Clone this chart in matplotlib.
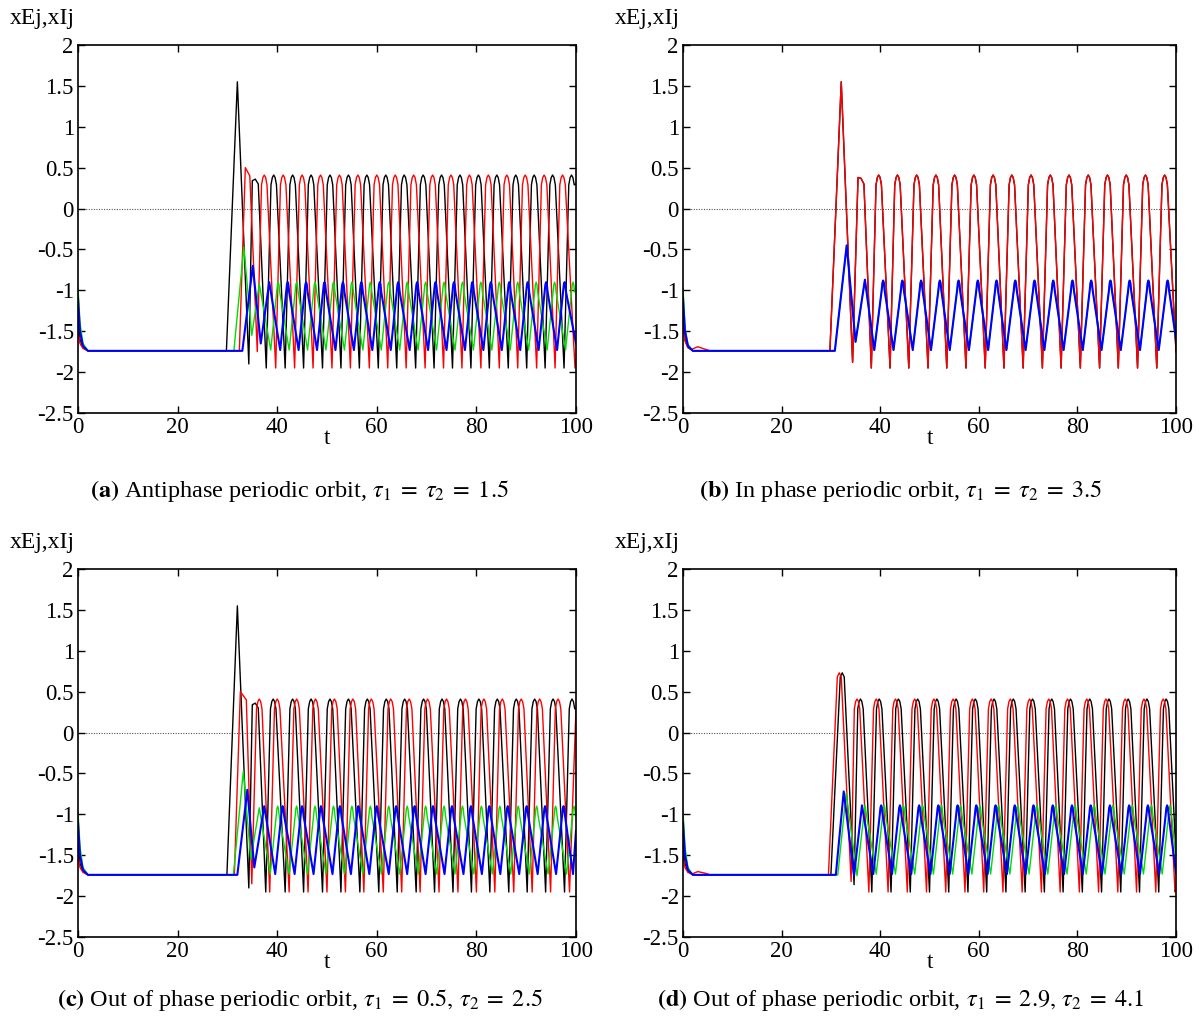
import numpy as np
import matplotlib.pyplot as plt

plt.rcParams['font.family'] = ['Liberation Serif', 'DejaVu Serif']
plt.rcParams['mathtext.fontset'] = 'stix'
plt.rcParams['axes.unicode_minus'] = False

# levels of the settled oscillation
exc_peak = 0.41
exc_trough = -1.95
inh_peak = -0.90
inh_trough = -1.73
# width (in t) of the rounded top of each pulse
exc_top_w = 1.1
inh_top_w = 0.6

# ---- (a) tau1 = tau2 = 1.5 ----
a_black_lead_t = [0, 0.4, 1.0, 2.0, 29.8, 32.0, 34.3, 35.0, 35.6, 36.2]
a_black_lead_v = [-1.35, -1.6, -1.7, -1.74, -1.74, 1.55, -1.9, 0.34, 0.36, 0.30]
a_black_peaks = [39.3, 43.1, 46.8, 50.6, 54.3, 58.0, 61.8, 65.5, 69.3, 73.0, 76.7, 80.4, 84.1, 87.9, 91.6,
                 95.3, 99.1]
a_black_troughs = [37.8, 41.6, 45.3, 49.1, 52.8, 56.5, 60.3, 64.0, 67.8, 71.5, 75.2, 78.9, 82.6, 86.4, 90.1,
                   93.8, 97.6]
a_black_end = 0.3

a_red_lead_t = [0, 0.4, 1.0, 2.0, 32.4, 33.6, 34.5, 36.0]
a_red_lead_v = [-1.5, -1.65, -1.71, -1.74, -1.74, 0.50, 0.40, -1.75]
a_red_peaks = [37.4, 41.2, 45.0, 48.7, 52.5, 56.2, 60.0, 63.7, 67.4, 71.2, 74.9, 78.6, 82.4, 86.1, 89.8,
               93.6, 97.3]
a_red_troughs = [39.7, 43.5, 47.2, 51.0, 54.7, 58.5, 62.2, 65.9, 69.7, 73.4, 77.1, 80.9, 84.6, 88.3, 92.1,
                 95.8, 99.8]
a_red_end = -1.85

a_green_lead_t = [0, 0.4, 1.0, 2.0, 31.3, 33.3, 34.9, 36.4]
a_green_lead_v = [-0.97, -1.4, -1.65, -1.74, -1.74, -0.47, -1.55, -0.92]
a_green_peaks = [40.2, 43.9, 47.6, 51.3, 55.0, 58.7, 62.4, 66.1, 69.8, 73.5, 77.2, 80.9, 84.6, 88.3, 92.0,
                 95.7, 99.4]
a_green_troughs = [38.7, 42.4, 46.1, 49.8, 53.5, 57.2, 60.9, 64.6, 68.3, 72.0, 75.7, 79.4, 83.1, 86.8, 90.5,
                   94.2, 97.9]
a_green_end = -0.95

a_blue_lead_t = [0, 0.4, 1.0, 2.0, 33.0, 35.1, 36.7, 38.4]
a_blue_lead_v = [-1.1, -1.5, -1.68, -1.74, -1.74, -0.70, -1.65, -0.90]
a_blue_peaks = [42.1, 45.8, 49.5, 53.2, 56.9, 60.6, 64.3, 68.1, 71.8, 75.5, 79.2, 82.9, 86.6, 90.3, 94.0, 97.7]
a_blue_troughs = [40.6, 44.3, 48.0, 51.7, 55.4, 59.1, 62.8, 66.6, 70.3, 74.0, 77.7, 81.4, 85.1, 88.8, 92.5,
                  96.2]
a_blue_end = -1.65

# ---- (b) tau1 = tau2 = 3.5 (black under red, green under blue) ----
b_black_lead_t = [0, 0.4, 1.0, 2.0, 29.8, 32.1, 34.4, 35.5, 36.1, 36.7]
b_black_lead_v = [-1.3, -1.6, -1.7, -1.74, -1.74, 1.55, -1.88, 0.38, 0.37, 0.30]
b_red_lead_t = [0, 0.4, 1.0, 1.8, 3.0, 4.5, 5.5, 29.8, 32.1, 34.4, 35.5, 36.1, 36.7]
b_red_lead_v = [-1.45, -1.62, -1.7, -1.72, -1.69, -1.72, -1.74, -1.74, 1.55, -1.88, 0.38, 0.37, 0.30]
b_exc_peaks = [39.7, 43.5, 47.4, 51.3, 55.1, 59.0, 62.9, 66.7, 70.6, 74.5, 78.3, 82.2, 86.1, 89.9, 93.8, 97.7]
b_exc_troughs = [38.2, 42.0, 45.8, 49.7, 53.5, 57.4, 61.3, 65.1, 69.0, 72.9, 76.7, 80.6, 84.5, 88.3, 92.2,
                 96.1]
b_exc_end = -1.75

b_green_lead_t = [0, 0.4, 1.0, 2.0, 30.8, 33.2, 35.0, 36.9]
b_green_lead_v = [-0.97, -1.45, -1.66, -1.74, -1.74, -0.45, -1.63, -0.87]
b_blue_lead_t = [0, 0.4, 1.0, 2.0, 30.8, 33.2, 35.0, 36.9]
b_blue_lead_v = [-1.1, -1.5, -1.68, -1.74, -1.74, -0.45, -1.63, -0.87]
b_inh_peaks = [40.6, 44.5, 48.3, 52.1, 55.9, 59.8, 63.6, 67.4, 71.3, 75.1, 79.0, 82.8, 86.7, 90.6, 94.4, 98.3]
b_inh_troughs = [38.8, 42.7, 46.6, 50.3, 54.1, 58.0, 61.9, 65.6, 69.5, 73.3, 77.2, 81.1, 84.9, 88.8, 92.7,
                 96.5]
b_inh_end = -1.6

# ---- (c) tau1 = 0.5, tau2 = 2.5 ----
c_black_lead_t = [0, 0.4, 1.0, 2.0, 29.9, 32.0, 34.3, 35.0, 35.6, 36.2]
c_black_lead_v = [-1.35, -1.6, -1.7, -1.74, -1.74, 1.55, -1.9, 0.34, 0.36, 0.30]
c_black_peaks = [39.2, 43.1, 46.8, 50.6, 54.3, 58.1, 61.9, 65.6, 69.4, 73.1, 76.8, 80.5, 84.2, 88.0, 91.7,
                 95.4, 99.2]
c_black_troughs = [37.7, 41.6, 45.3, 49.1, 52.8, 56.6, 60.4, 64.1, 67.9, 71.6, 75.3, 79.0, 82.7, 86.5, 90.2,
                   93.9, 97.7]
c_black_end = 0.3

c_red_lead_t = [0, 0.4, 1.0, 2.0, 31.4, 32.6, 33.8, 34.9]
c_red_lead_v = [-1.5, -1.65, -1.71, -1.74, -1.74, 0.50, 0.40, -1.85]
c_red_peaks = [36.4, 40.0, 43.9, 47.7, 51.5, 55.2, 58.9, 62.8, 66.5, 70.2, 74.0, 77.8, 81.5, 85.2, 89.0,
               92.7, 96.4]
c_red_troughs = [38.5, 42.4, 46.2, 50.0, 53.7, 57.4, 61.3, 65.0, 68.7, 72.5, 76.3, 80.0, 83.7, 87.5, 91.2,
                 94.9, 98.7]
c_red_end = 0.3

c_green_lead_t = [0, 0.4, 1.0, 2.0, 31.2, 33.2, 34.7, 36.4]
c_green_lead_v = [-0.97, -1.4, -1.65, -1.74, -1.74, -0.47, -1.55, -0.92]
c_green_peaks = [40.1, 43.9, 47.6, 51.3, 55.0, 58.7, 62.4, 66.1, 69.8, 73.5, 77.2, 81.0, 84.7, 88.4, 92.1,
                 95.9, 99.6]
c_green_troughs = [38.6, 42.4, 46.1, 49.8, 53.5, 57.2, 60.9, 64.6, 68.3, 72.0, 75.7, 79.5, 83.2, 86.9, 90.6,
                   94.4, 98.1]
c_green_end = -0.92

c_blue_lead_t = [0, 0.4, 1.0, 2.0, 32.0, 34.0, 35.4, 37.4]
c_blue_lead_v = [-1.1, -1.5, -1.68, -1.74, -1.74, -0.70, -1.65, -0.90]
c_blue_peaks = [41.1, 45.0, 48.8, 52.6, 56.3, 60.0, 63.9, 67.6, 71.3, 75.1, 78.9, 82.6, 86.3, 90.1, 93.8, 97.5]
c_blue_troughs = [39.6, 43.5, 47.3, 51.1, 54.8, 58.5, 62.4, 66.1, 69.8, 73.6, 77.4, 81.1, 84.8, 88.6, 92.3,
                  96.0, 99.4]
c_blue_end = -1.2

# ---- (d) tau1 = 2.9, tau2 = 4.1 ----
d_black_lead_t = [0, 0.4, 1.0, 2.0, 30.0, 31.9, 32.3, 32.7, 34.7]
d_black_lead_v = [-1.35, -1.6, -1.7, -1.74, -1.74, 0.68, 0.73, 0.68, -1.86]
d_black_peaks = [36.0, 39.8, 43.7, 47.6, 51.5, 55.4, 59.3, 63.1, 67.0, 70.9, 74.8, 78.6, 82.5, 86.4, 90.3,
                 94.1, 98.0]
d_black_troughs = [38.3, 42.2, 46.1, 50.0, 53.9, 57.8, 61.6, 65.5, 69.4, 73.3, 77.1, 81.0, 84.9, 88.8, 92.6,
                   96.5]
d_black_end = -1.5

d_red_lead_t = [0, 0.4, 1.0, 1.8, 3.0, 4.5, 5.5, 29.5, 31.3, 31.7, 32.1, 34.1]
d_red_lead_v = [-1.5, -1.65, -1.71, -1.73, -1.70, -1.72, -1.74, -1.74, 0.68, 0.73, 0.68, -1.82]
d_red_peaks = [35.3, 39.2, 43.1, 47.0, 50.9, 54.8, 58.7, 62.5, 66.4, 70.3, 74.2, 78.0, 81.9, 85.8, 89.7,
               93.5, 97.4]
d_red_troughs = [37.7, 41.6, 45.5, 49.4, 53.3, 57.2, 61.0, 64.9, 68.8, 72.7, 76.5, 80.4, 84.3, 88.2, 92.0,
                 95.9, 99.8]
d_red_end = -1.9

d_green_lead_t = [0, 0.4, 1.0, 2.0, 31.4, 33.1, 35.3, 36.9]
d_green_lead_v = [-0.97, -1.4, -1.65, -1.74, -1.74, -0.74, -1.75, -0.89]
d_green_peaks = [40.8, 44.7, 48.6, 52.4, 56.3, 60.2, 64.0, 67.9, 71.8, 75.6, 79.5, 83.4, 87.2, 91.1, 95.0, 98.8]
d_green_troughs = [39.2, 43.1, 47.0, 50.8, 54.7, 58.6, 62.4, 66.3, 70.2, 74.0, 77.9, 81.8, 85.6, 89.5, 93.4,
                   97.2]
d_green_end = -1.55

d_blue_lead_t = [0, 0.4, 1.0, 2.0, 31.0, 32.6, 34.7, 36.3]
d_blue_lead_v = [-1.1, -1.5, -1.68, -1.74, -1.74, -0.72, -1.75, -0.89]
d_blue_peaks = [40.2, 44.0, 47.9, 51.8, 55.7, 59.5, 63.4, 67.3, 71.1, 75.0, 78.9, 82.7, 86.6, 90.5, 94.3, 98.2]
d_blue_troughs = [38.6, 42.4, 46.3, 50.2, 54.1, 57.9, 61.8, 65.7, 69.5, 73.4, 77.3, 81.1, 85.0, 88.9, 92.7,
                  96.6]
d_blue_end = -1.72

captions = [
    r'$\mathbf{(a)}$ Antiphase periodic orbit, $\tau_1\;=\;\tau_2\;=\;1.5$',
    r'$\mathbf{(b)}$ In phase periodic orbit, $\tau_1\;=\;\tau_2\;=\;3.5$',
    r'$\mathbf{(c)}$ Out of phase periodic orbit, $\tau_1\;=\;0.5,\,\tau_2\;=\;2.5$',
    r'$\mathbf{(d)}$ Out of phase periodic orbit, $\tau_1\;=\;2.9,\,\tau_2\;=\;4.1$',
]


def trace(lead_t, lead_v, peaks, troughs, pk, tr, end, top_w):
    # join the read-off points into one time ordered polyline;
    # every settled peak is drawn as a short rounded top of width top_w
    pk_t = np.asarray(peaks)
    t = np.concatenate([lead_t, pk_t - top_w / 2, pk_t - top_w / 4, pk_t, pk_t + top_w / 4,
                        pk_t + top_w / 2, troughs, [100.0]])
    n = len(pk_t)
    v = np.concatenate([lead_v, np.full(n, pk - 0.12), np.full(n, pk - 0.03), np.full(n, pk),
                        np.full(n, pk - 0.03), np.full(n, pk - 0.12), np.full(len(troughs), tr), [end]])
    order = np.argsort(t, kind='stable')
    return t[order], v[order]


panels = [
    [(a_black_lead_t, a_black_lead_v, a_black_peaks, a_black_troughs, exc_peak, exc_trough, a_black_end, exc_top_w),
     (a_red_lead_t, a_red_lead_v, a_red_peaks, a_red_troughs, exc_peak, exc_trough, a_red_end, exc_top_w),
     (a_green_lead_t, a_green_lead_v, a_green_peaks, a_green_troughs, inh_peak, inh_trough, a_green_end, inh_top_w),
     (a_blue_lead_t, a_blue_lead_v, a_blue_peaks, a_blue_troughs, inh_peak, inh_trough, a_blue_end, inh_top_w)],
    [(b_black_lead_t, b_black_lead_v, b_exc_peaks, b_exc_troughs, exc_peak, exc_trough, b_exc_end, exc_top_w),
     (b_red_lead_t, b_red_lead_v, b_exc_peaks, b_exc_troughs, exc_peak, exc_trough, b_exc_end, exc_top_w),
     (b_green_lead_t, b_green_lead_v, b_inh_peaks, b_inh_troughs, -0.88, inh_trough, b_inh_end, inh_top_w),
     (b_blue_lead_t, b_blue_lead_v, b_inh_peaks, b_inh_troughs, -0.88, inh_trough, b_inh_end, inh_top_w)],
    [(c_black_lead_t, c_black_lead_v, c_black_peaks, c_black_troughs, exc_peak, exc_trough, c_black_end, exc_top_w),
     (c_red_lead_t, c_red_lead_v, c_red_peaks, c_red_troughs, exc_peak, exc_trough, c_red_end, exc_top_w),
     (c_green_lead_t, c_green_lead_v, c_green_peaks, c_green_troughs, inh_peak, inh_trough, c_green_end, inh_top_w),
     (c_blue_lead_t, c_blue_lead_v, c_blue_peaks, c_blue_troughs, inh_peak, inh_trough, c_blue_end, inh_top_w)],
    [(d_black_lead_t, d_black_lead_v, d_black_peaks, d_black_troughs, exc_peak, exc_trough, d_black_end, exc_top_w),
     (d_red_lead_t, d_red_lead_v, d_red_peaks, d_red_troughs, exc_peak, exc_trough, d_red_end, exc_top_w),
     (d_green_lead_t, d_green_lead_v, d_green_peaks, d_green_troughs, -0.89, inh_trough, d_green_end, inh_top_w),
     (d_blue_lead_t, d_blue_lead_v, d_blue_peaks, d_blue_troughs, -0.89, inh_trough, d_blue_end, inh_top_w)],
]

colors = ['#000000', '#ff0000', '#00dd00', '#0000ff']
widths = [1.0, 1.0, 1.0, 1.5]

W, H = 1199, 1017
boxes = [(78, 45), (683, 45), (78, 569), (683, 569)]
ax_w = [498, 493, 498, 493]
ax_h = 368
cap_pos = [(0.25, 491), (0.751, 491), (0.25, 1000), (0.751, 1000)]

fig = plt.figure(figsize=(W / 100, H / 100), dpi=100)

for i in range(4):
    x0, y0 = boxes[i]
    ax = fig.add_axes([x0 / W, 1 - (y0 + ax_h) / H, ax_w[i] / W, ax_h / H])
    ax.axhline(0, color='#555555', lw=0.8, ls=(0, (1, 1.3)), zorder=1)
    for series, c, lw in zip(panels[i], colors, widths):
        t, v = trace(*series)
        ax.plot(t, v, color=c, lw=lw, zorder=2, solid_joinstyle='round')
    ax.set_xlim(0, 100)
    ax.set_ylim(-2.5, 2)
    ax.set_xticks(np.arange(0, 101, 20))
    ax.set_yticks(np.arange(-2.5, 2.01, 0.5))
    ax.yaxis.set_major_formatter(plt.FuncFormatter(lambda val, pos: '%g' % val))
    ax.tick_params(direction='in', top=True, right=True, length=5, width=1, labelsize=16.5, pad=3)
    for s in ax.spines.values():
        s.set_linewidth(1.2)
    ax.set_xlabel('t', fontsize=16.5, labelpad=-7)
    ax.text(-0.072, 1.072, 'xEj,xIj', transform=ax.transAxes, fontsize=17, ha='center', va='center')
    fig.text(cap_pos[i][0], 1 - cap_pos[i][1] / H, captions[i], fontsize=17.5, ha='center', va='center')

fig.savefig('out.png', dpi=100)
